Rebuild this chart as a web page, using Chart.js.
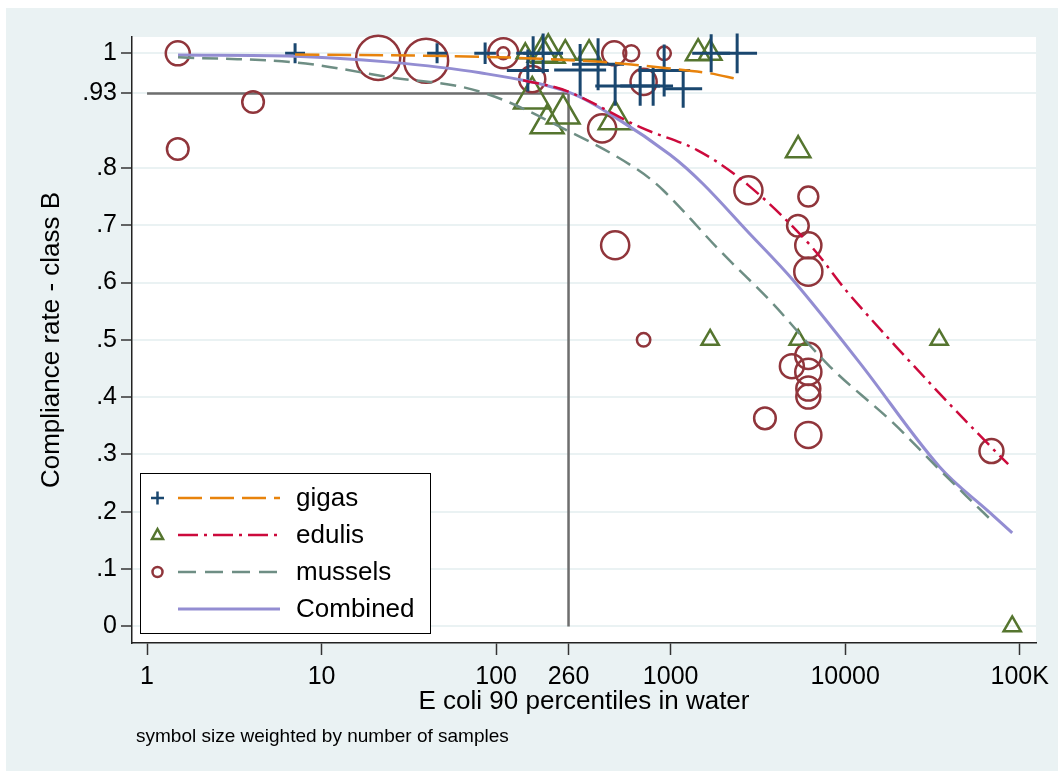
<!DOCTYPE html>
<html>
<head>
<meta charset="utf-8">
<script src="https://cdn.jsdelivr.net/npm/chart.js@4.4.1/dist/chart.umd.min.js"></script>
<style>
  html, body { margin: 0; padding: 0; background: #fff; }
  canvas { display: block; }
</style>
</head>
<body>
<canvas id="chart" width="1058" height="773"></canvas>
<script>
// axis ticks
const xTicks = [1, 10, 100, 260, 1000, 10000, 100000];
const xTickLabels = ["1", "10", "100", "260", "1000", "10000", "100K"];
const yTicks = [0, 0.1, 0.2, 0.3, 0.4, 0.5, 0.6, 0.7, 0.8, 0.93, 1];
const yTickLabels = ["0", ".1", ".2", ".3", ".4", ".5", ".6", ".7", ".8", ".93", "1"];

// observed compliance (x = E coli 90 percentile, y = rate, n = samples)
const gigasX = [7.05, 45.9, 86.5, 163, 186, 152, 303, 384, 481, 669, 794, 918, 1180, 1707, 2405];
const gigasY = [1, 1, 1, 1, 1, 0.97, 0.971, 0.981, 0.943, 0.943, 0.943, 0.97, 0.938, 1, 1];
const gigasN = [11, 11, 13, 32, 44, 49, 75, 75, 44, 44, 44, 75, 40, 40, 44];

const edulisX = [147, 184, 199, 249, 341, 1437, 1684, 161, 242, 196, 481, 5379, 1684, 5379, 34570, 90590];
const edulisY = [1, 1, 1, 1, 1, 1, 1, 0.922, 0.894, 0.877, 0.884, 0.831, 0.5, 0.5, 0.5, 0];
const edulisN = [11, 32, 40, 19, 19, 22, 19, 49, 40, 40, 40, 22, 11, 11, 11, 11];

const musselsX = [1.5, 4.05, 1.5, 21.1, 39.7, 110, 110, 161, 475, 595, 918, 700, 405, 481, 700, 2790,
  6150, 5360, 6150, 6150, 6150, 4950, 6150, 6150, 6150, 3470, 6150, 68900];
const musselsY = [1, 0.915, 0.833, 0.992, 0.987, 1, 1, 0.955, 1, 1, 1, 0.95, 0.869, 0.665, 0.5, 0.761,
  0.75, 0.699, 0.665, 0.619, 0.472, 0.454, 0.444, 0.415, 0.401, 0.363, 0.334, 0.306];
const musselsN = [16, 13, 13, 54, 54, 25, 4, 19, 16, 7, 5, 19, 22, 22, 5, 22,
  11, 13, 19, 22, 19, 16, 19, 16, 16, 13, 19, 16];

// fitted curves
const gigasFitX = [7.05, 81, 395, 955, 1683, 2405];
const gigasFitY = [0.998, 0.994, 0.985, 0.974, 0.965, 0.955];

const edulisFitX = [142.8, 255, 669, 1419, 2781, 6138, 11000, 34570, 65100, 85900];
const edulisFitY = [0.953, 0.934, 0.871, 0.831, 0.77, 0.669, 0.573, 0.407, 0.32, 0.283];

const musselsFitX = [1.505, 7.05, 23.7, 81, 303, 610, 906, 1923, 3719, 8200, 18840, 34800, 70500];
const musselsFitY = [0.993, 0.984, 0.959, 0.933, 0.854, 0.802, 0.761, 0.655, 0.568, 0.453, 0.355, 0.273, 0.182];

const combinedX = [1.505, 7.05, 23.7, 81, 255, 494, 993, 1535, 2743, 5035, 12190, 34800, 67700, 90600];
const combinedY = [0.997, 0.995, 0.985, 0.966, 0.933, 0.886, 0.823, 0.772, 0.69, 0.604, 0.459, 0.278, 0.198, 0.163];

// reference lines at 260 and .93
const refX = [1, 260, 260];
const refY = [0.93, 0.93, 0];

const navy = "#1a476f", maroon = "#90353b", forest = "#55752f";
const orange = "#e8830c", cranberry = "#cc0a3c", teal = "#6e8e84", lavender = "#938dd2";

function toXY(xs, ys) {
  return xs.map((x, i) => ({ x: x, y: ys[i] }));
}
function sizeBy(n) {
  return (c) => 3 * Math.sqrt(n[c.dataIndex]);
}

Chart.defaults.font.family = "'Liberation Sans', Arial, sans-serif";
Chart.defaults.color = "#000";

const backdrop = {
  id: "backdrop",
  beforeDraw(chart) {
    const c = chart.ctx, a = chart.chartArea;
    c.save();
    c.fillStyle = "#fff";
    c.fillRect(0, 0, chart.width, chart.height);
    c.fillStyle = "#eaf2f3";
    c.fillRect(6, 8, chart.width - 6, chart.height - 10);
    c.fillStyle = "#fff";
    c.fillRect(a.left, a.top, a.right - a.left, a.bottom - a.top);
    c.restore();
  },
  afterDraw(chart) {
    const c = chart.ctx;
    c.save();
    // legend box
    c.fillStyle = "#fff";
    c.fillRect(140, 473, 291, 160);
    c.strokeStyle = "#000";
    c.lineWidth = 1;
    c.strokeRect(140.5, 473.5, 290, 160);

    const rows = [
      { y: 498, label: "gigas", color: orange, dash: [24, 8], mark: "cross" },
      { y: 535, label: "edulis", color: cranberry, dash: [20, 6, 3, 6], mark: "triangle" },
      { y: 572, label: "mussels", color: teal, dash: [18, 9], mark: "circle" },
      { y: 609, label: "Combined", color: lavender, dash: [], mark: null }
    ];
    rows.forEach((r) => {
      c.setLineDash(r.dash);
      c.strokeStyle = r.color;
      c.lineWidth = r.mark ? 2.5 : 3;
      c.beginPath();
      c.moveTo(178, r.y);
      c.lineTo(280, r.y);
      c.stroke();
      c.setLineDash([]);
      c.lineWidth = 2.5;
      if (r.mark === "cross") {
        c.strokeStyle = navy;
        c.beginPath();
        c.moveTo(151, r.y); c.lineTo(164, r.y);
        c.moveTo(157.5, r.y - 6.5); c.lineTo(157.5, r.y + 6.5);
        c.stroke();
      } else if (r.mark === "triangle") {
        c.strokeStyle = forest;
        c.beginPath();
        c.moveTo(157.5, r.y - 6);
        c.lineTo(163, r.y + 4);
        c.lineTo(152, r.y + 4);
        c.closePath();
        c.stroke();
      } else if (r.mark === "circle") {
        c.strokeStyle = maroon;
        c.beginPath();
        c.arc(157.5, r.y, 5, 0, Math.PI * 2);
        c.stroke();
      }
      c.fillStyle = "#000";
      c.font = "26px 'Liberation Sans', Arial, sans-serif";
      c.textBaseline = "middle";
      c.textAlign = "left";
      c.fillText(r.label, 296, r.y + 1);
    });

    c.font = "19px 'Liberation Sans', Arial, sans-serif";
    c.fillText("symbol size weighted by number of samples", 136, 737);
    c.restore();
  }
};

const lineBase = { showLine: true, pointRadius: 0, fill: false, tension: 0.35, borderWidth: 2.5 };
const markBase = { showLine: false, backgroundColor: "transparent", pointBorderWidth: 2.5, clip: false };

new Chart(document.getElementById("chart"), {
  type: "scatter",
  data: {
    datasets: [
      Object.assign({ label: "gigas fit", data: toXY(gigasFitX, gigasFitY), borderColor: orange, borderDash: [24, 8] }, lineBase),
      Object.assign({ label: "edulis fit", data: toXY(edulisFitX, edulisFitY), borderColor: cranberry, borderDash: [16, 6, 3, 6] }, lineBase),
      Object.assign({ label: "mussels fit", data: toXY(musselsFitX, musselsFitY), borderColor: teal, borderDash: [16, 8] }, lineBase),
      Object.assign({ label: "Combined", data: toXY(combinedX, combinedY), borderColor: lavender }, lineBase, { borderWidth: 3 }),
      Object.assign({ label: "gigas", data: toXY(gigasX, gigasY), pointStyle: "cross", borderColor: navy, pointBorderColor: navy, pointRadius: sizeBy(gigasN) }, markBase, { pointBorderWidth: 3 }),
      Object.assign({ label: "edulis", data: toXY(edulisX, edulisY), pointStyle: "triangle", borderColor: forest, pointBorderColor: forest, pointRadius: sizeBy(edulisN) }, markBase),
      Object.assign({ label: "mussels", data: toXY(musselsX, musselsY), pointStyle: "circle", borderColor: maroon, pointBorderColor: maroon, pointRadius: sizeBy(musselsN) }, markBase),
      { label: "ref", data: toXY(refX, refY), showLine: true, pointRadius: 0, borderColor: "#6e6e6e", borderWidth: 2.5, tension: 0 }
    ]
  },
  options: {
    responsive: false,
    animation: false,
    events: [],
    devicePixelRatio: 1,
    layout: { autoPadding: false, padding: { left: 0, top: 37, right: 22, bottom: 0 } },
    plugins: {
      legend: { display: false },
      tooltip: { enabled: false }
    },
    scales: {
      x: {
        type: "logarithmic",
        min: 0.82,
        max: 124000,
        afterBuildTicks: (s) => { s.ticks = xTicks.map((v) => ({ value: v })); },
        afterFit: (s) => { s.height = 130; },
        ticks: {
          autoSkip: false,
          maxRotation: 0,
          padding: 7,
          font: { size: 25 },
          callback: (v, i) => xTickLabels[i]
        },
        grid: { drawOnChartArea: false, tickLength: 12, tickColor: "#333", tickWidth: 1.5 },
        border: { color: "#222", width: 1.5 },
        title: { display: true, text: "E coli 90 percentiles in water", font: { size: 26 }, padding: { top: 0, bottom: 56 } }
      },
      y: {
        min: -0.029,
        max: 1.0284,
        afterBuildTicks: (s) => { s.ticks = yTicks.map((v) => ({ value: v })); },
        afterFit: (s) => { s.width = 132; },
        ticks: {
          autoSkip: false,
          padding: 4,
          font: { size: 25 },
          callback: (v, i) => yTickLabels[i]
        },
        grid: { color: "#eaf2f3", lineWidth: 2, tickLength: 11, tickColor: "#333", tickWidth: 1.5 },
        border: { color: "#222", width: 1.5 },
        title: { display: true, text: "Compliance rate - class B", font: { size: 26 }, padding: { top: 36, bottom: 0 } }
      }
    }
  },
  plugins: [backdrop]
});
</script>
</body>
</html>
